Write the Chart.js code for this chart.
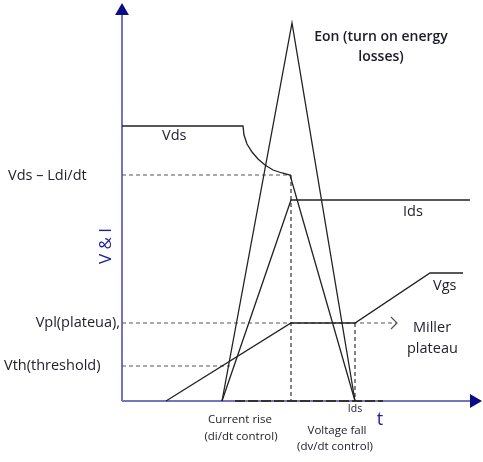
<!DOCTYPE html>
<html><head><meta charset="utf-8">
<script src="https://cdn.jsdelivr.net/npm/chart.js@4.4.1/dist/chart.umd.min.js"></script>
<style>html,body{margin:0;padding:0;background:#fff}canvas{display:block}</style>
</head><body>
<canvas id="c" width="483" height="462"></canvas>
<script>
// Time axis (t) and V & I axis, arbitrary units
const vdsT  = [0, 12.1, 12.2, 12.5, 13.0, 13.6, 14.3, 15.1, 16.0, 16.8, 23.3];
const vdsV  = [27.5, 27.5, 26.6, 25.7, 24.9, 24.2, 23.6, 23.1, 22.8, 22.6, 0];
const idsT  = [10.0, 16.9, 34.8];
const idsV  = [0, 20.1, 20.1];
const vgsT  = [4.4, 16.9, 23.3, 30.8, 34.1];
const vgsV  = [0, 7.8, 7.8, 12.8, 12.8];
const eonT  = [10.0, 17.0, 23.3];
const eonV  = [0, 37.8, 0];
const levelNames  = ["Vds \u2013 Ldi/dt", "Vpl(plateua),", "Vth(threshold)"];
const levelValues = [22.6, 7.8, 3.5];
const levelEnds   = [16.9, 27.5, 10.8];
const phaseEdges  = [16.9, 23.3];

const pts = (xs, ys) => xs.map((x, i) => ({x, y: ys[i]}));
const black = '#222222', dash = '#555555';
const base = {showLine: true, pointRadius: 0, tension: 0, fill: false, borderWidth: 1.3, borderColor: black};

const datasets = [
  {...base, label: 'Vds', data: pts(vdsT, vdsV)},
  {...base, label: 'Ids', data: pts(idsT, idsV)},
  {...base, label: 'Vgs', data: pts(vgsT, vgsV)},
  {...base, label: 'Eon', data: pts(eonT, eonV)},
];
levelValues.forEach((v, i) => {
  datasets.push({...base, borderColor: dash, borderWidth: 1.2, borderDash: [4, 3],
    data: [{x: 0, y: v}, {x: levelEnds[i], y: v}]});
});
// vertical phase markers
datasets.push({...base, borderColor: '#333', borderWidth: 1.2, borderDash: [4, 3],
  data: [{x: phaseEdges[0], y: levelValues[0]}, {x: phaseEdges[0], y: 0}]});
datasets.push({...base, borderColor: '#333', borderWidth: 1.2, borderDash: [4, 3],
  data: [{x: phaseEdges[1], y: levelValues[1]}, {x: phaseEdges[1], y: 0}]});
// open arrow head on the plateau line
datasets.push({...base, borderColor: dash, borderWidth: 1.2,
  data: [{x: levelEnds[1] - 0.6, y: levelValues[1] + 0.6}, {x: levelEnds[1], y: levelValues[1]}, {x: levelEnds[1] - 0.6, y: levelValues[1] - 0.6}]});
// dark segment on time axis
datasets.push({...base, borderColor: '#333', borderWidth: 2, borderDash: [10, 3],
  data: [{x: idsT[0] + 1.3, y: 0}, {x: 26.1, y: 0}]});
// axes with arrow heads
datasets.push({...base, borderColor: '#7474c4', borderWidth: 2,
  pointRadius: [0, 8], pointStyle: 'triangle', rotation: 0,
  pointBackgroundColor: '#0c0c84', pointBorderColor: '#0c0c84', pointBorderWidth: 0,
  data: [{x: 0, y: 0}, {x: 0, y: 39}]});
datasets.push({...base, borderColor: '#7474c4', borderWidth: 2,
  pointRadius: [0, 8], pointStyle: 'triangle', rotation: 90,
  pointBackgroundColor: '#0c0c84', pointBorderColor: '#0c0c84', pointBorderWidth: 0,
  data: [{x: 0, y: 0}, {x: 35.2, y: 0}]});

const FONT = '"Open Sans", Lato, sans-serif';
const lab = '14.5px ' + FONT, small = '11.5px ' + FONT, txt = '#222230';
const labels = [
  {t: 'Eon (turn on energy', x: 25.9, y: 36.4, align: 'center', font: '600 14px ' + FONT, c: '#1a1a28'},
  {t: 'losses)', x: 25.9, y: 34.4, align: 'center', font: '600 14px ' + FONT, c: '#1a1a28'},
  {t: 'Vds', x: 4.0, y: 26.5, align: 'left', font: lab, c: txt},
  {t: levelNames[0], x: -11.4, y: levelValues[0] - 0.1, align: 'left', font: lab, c: txt},
  {t: levelNames[1], x: -0.2, y: levelValues[1], align: 'right', font: lab, c: txt},
  {t: levelNames[2], x: -11.8, y: levelValues[2], align: 'left', font: lab, c: txt},
  {t: 'Ids', x: 28.1, y: 18.9, align: 'left', font: lab, c: txt},
  {t: 'Vgs', x: 31.1, y: 11.5, align: 'left', font: lab, c: txt},
  {t: 'Miller', x: 29.1, y: 7.3, align: 'left', font: lab, c: txt},
  {t: 'plateau', x: 28.5, y: 5.2, align: 'left', font: lab, c: txt},
  {t: 'Current rise', x: 11.8, y: -1.9, align: 'center', font: small, c: txt},
  {t: '(di/dt control)', x: 11.9, y: -3.6, align: 'center', font: small, c: txt},
  {t: 'Ids', x: 23.3, y: -0.8, align: 'center', font: '10.5px ' + FONT, c: txt},
  {t: 't', x: 25.8, y: -1.9, align: 'center', font: '18px ' + FONT, c: '#1e1e96'},
  {t: 'Voltage fall', x: 21.5, y: -3.0, align: 'center', font: small, c: txt},
  {t: '(dv/dt control)', x: 21.3, y: -4.6, align: 'center', font: small, c: txt},
];

const textPlugin = {
  id: 'texts',
  afterDatasetsDraw(chart) {
    const {ctx, scales: {x, y}} = chart;
    ctx.save();
    ctx.textBaseline = 'middle';
    labels.forEach(l => {
      ctx.font = l.font; ctx.fillStyle = l.c; ctx.textAlign = l.align;
      ctx.fillText(l.t, x.getPixelForValue(l.x), y.getPixelForValue(l.y));
    });
    // y axis title
    ctx.translate(x.getPixelForValue(-1.6), y.getPixelForValue(15.5));
    ctx.rotate(-Math.PI / 2);
    ctx.font = '17px ' + FONT; ctx.fillStyle = '#2222a0'; ctx.textAlign = 'center';
    ctx.fillText('V & I', 0, 0);
    ctx.restore();
  }
};

new Chart(document.getElementById('c'), {
  type: 'scatter',
  data: {datasets},
  options: {
    responsive: false, animation: false,
    layout: {autoPadding: false, padding: {left: 122, right: 1, top: 5, bottom: 61}},
    scales: {
      x: {type: 'linear', min: 0, max: 36, display: false},
      y: {type: 'linear', min: 0, max: 39.6, display: false}
    },
    plugins: {legend: {display: false}, tooltip: {enabled: false}},
    elements: {line: {borderCapStyle: 'butt'}},
    clip: false
  },
  plugins: [textPlugin]
});
</script>
</body></html>
